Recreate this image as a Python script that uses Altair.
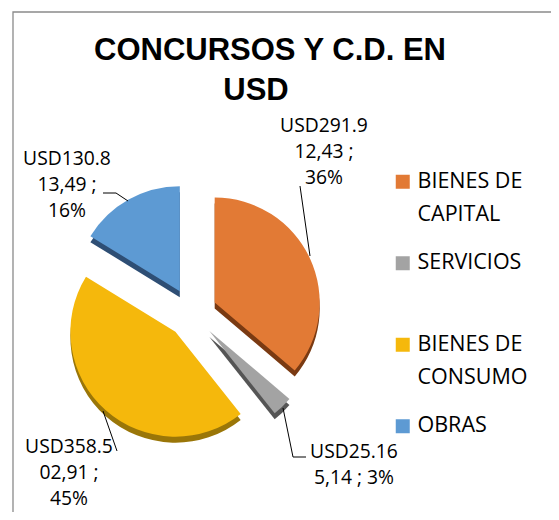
import altair as alt

# ---------------- data ----------------
CATS = ["BIENES DE CAPITAL", "SERVICIOS", "BIENES DE CONSUMO", "OBRAS"]
VALUES = [291912.43, 25165.14, 358502.91, 130813.49]
LABEL_LINES = [
    ["USD291.9", "12,43 ;", "36%"],
    ["USD25.16", "5,14 ; 3%"],
    ["USD358.5", "02,91 ;", "45%"],
    ["USD130.8", "13,49 ;", "16%"],
]
TITLE_LINES = ["CONCURSOS Y C.D. EN", "USD"]

# ---------------- styles ----------------
TOP_COLORS = ["#E27A35", "#A3A3A3", "#F5B80C", "#5D9AD3"]
SIDE_COLORS = ["#7A3A12", "#555555", "#9A7608", "#2E4E74"]
LABEL_FONT = "Open Sans"

# ---------------- layout ----------------
W, H = 543, 504
CX, CY = 184, 305
RADIUS = 105
EXPLODE = 25
DEPTH = 6

TITLE_ANCHORS = [(262, 52), (248, 92)]
LABEL_ANCHORS = {
    "BIENES DE CAPITAL": (316, 124),
    "SERVICIOS": (346, 450),
    "BIENES DE CONSUMO": (61, 445),
    "OBRAS": (59, 157),
}
LEADER_PATHS = {
    "BIENES DE CAPITAL": [(292, 178), (302, 248)],
    "SERVICIOS": [(275, 400), (285, 449), (298, 449)],
    "BIENES DE CONSUMO": [(95, 403), (109, 443)],
    "OBRAS": [(95, 185), (108, 185), (120, 193)],
}

# ---------------- tables ----------------
pie_rows = [{"cat": c, "value": v, "i": i} for i, (c, v) in enumerate(zip(CATS, VALUES))]
label_rows = [
    {"cat": c, "lines": LABEL_LINES[i], "lx": LABEL_ANCHORS[c][0], "ly": LABEL_ANCHORS[c][1]}
    for i, c in enumerate(CATS)
]
leader_rows = [
    {"cat": c, "k": k, "x": p[0], "y": p[1]}
    for c in CATS
    for k, p in enumerate(LEADER_PATHS[c])
]
title_rows = [
    {"t": t, "tx": TITLE_ANCHORS[i][0], "ty": TITLE_ANCHORS[i][1]}
    for i, t in enumerate(TITLE_LINES)
]

base = (
    alt.Chart(alt.Data(values=pie_rows))
    .transform_window(cum="sum(value)", sort=[alt.SortField("i", order="ascending")])
    .transform_joinaggregate(total="sum(value)")
    .transform_calculate(t0="2 * PI * (datum.cum - datum.value) / datum.total")
    .transform_calculate(t1="2 * PI * datum.cum / datum.total")
    .transform_calculate(mid="(datum.t0 + datum.t1) / 2")
    .transform_calculate(px=f"{CX} + {EXPLODE} * sin(datum.mid)")
    .transform_calculate(py=f"{CY} - {EXPLODE} * cos(datum.mid)")
    .transform_calculate(pyd=f"datum.py + {DEPTH}")
)

side = base.mark_arc(radius=RADIUS).encode(
    theta=alt.Theta("t0:Q", scale=None, stack=False),
    theta2="t1:Q",
    x=alt.X("px:Q", scale=None, axis=None),
    y=alt.Y("pyd:Q", scale=None, axis=None),
    color=alt.Color("cat:N", scale=alt.Scale(domain=CATS, range=SIDE_COLORS), legend=None),
)

legend = alt.Legend(
    title=None,
    orient="none",
    legendX=384,
    legendY=163,
    padding=0,
    symbolType="square",
    symbolSize=196,
    symbolStrokeWidth=0,
    labelFont=LABEL_FONT,
    labelFontSize=21.5,
    labelColor="#000000",
    labelOffset=4,
    labelLimit=400,
    rowPadding=25.5,
    labelExpr=(
        "indexof(datum.label, ' DE ') > 0 ? "
        "[substring(datum.label, 0, indexof(datum.label, ' DE ') + 3), "
        "substring(datum.label, indexof(datum.label, ' DE ') + 4)] : [datum.label, '']"
    ),
)

top = base.mark_arc(radius=RADIUS).encode(
    theta=alt.Theta("t0:Q", scale=None, stack=False),
    theta2="t1:Q",
    x=alt.X("px:Q", scale=None, axis=None),
    y=alt.Y("py:Q", scale=None, axis=None),
    color=alt.Color("cat:N", scale=alt.Scale(domain=CATS, range=TOP_COLORS), legend=legend),
)

labels = alt.Chart(alt.Data(values=label_rows)).mark_text(
    font=LABEL_FONT, fontSize=19.3, lineHeight=26, align="center",
    baseline="alphabetic", color="#000000",
).encode(
    x=alt.X("lx:Q", scale=None, axis=None),
    y=alt.Y("ly:Q", scale=None, axis=None),
    text="lines:N",
)

leaders = alt.Chart(alt.Data(values=leader_rows)).mark_line(
    color="#000000", strokeWidth=1
).encode(
    x=alt.X("x:Q", scale=None, axis=None),
    y=alt.Y("y:Q", scale=None, axis=None),
    detail="cat:N",
    order="k:O",
)

title = alt.Chart(alt.Data(values=title_rows)).mark_text(
    font="Liberation Sans", fontWeight="bold", fontSize=31,
    align="center", baseline="alphabetic", color="#000000",
).encode(
    x=alt.X("tx:Q", scale=None, axis=None),
    y=alt.Y("ty:Q", scale=None, axis=None),
    text="t:N",
)

frame = alt.Chart(alt.Data(values=[{"a": 1}])).mark_rect(
    filled=False, stroke="#8a8a8a", strokeWidth=1.3
).encode(x=alt.value(5), y=alt.value(4), x2=alt.value(1200), y2=alt.value(1200))

chart = (
    alt.layer(frame, side, top, leaders, labels, title)
    .resolve_scale(color="independent")
    .properties(width=W, height=H, autosize=alt.AutoSizeParams(type="none"), padding=0)
    .configure(style={"guide-label": {"lineHeight": 33}})
    .configure_view(strokeWidth=0)
)

chart.save("out.html", embed_options={"renderer": "svg", "actions": False})
